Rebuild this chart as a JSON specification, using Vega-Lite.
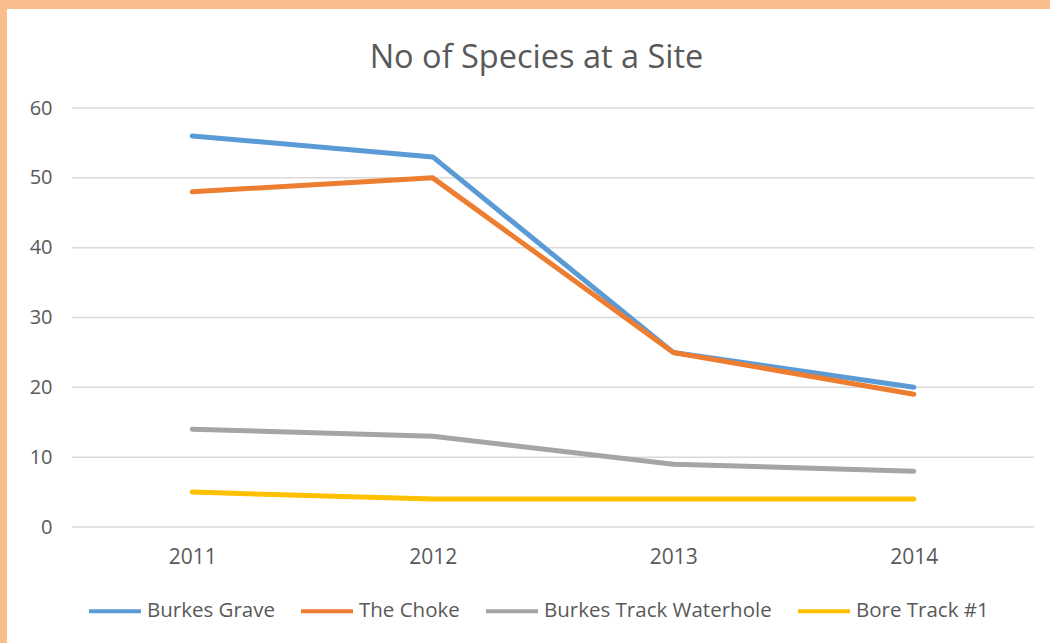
{
  "$schema": "https://vega.github.io/schema/vega-lite/v6.json",
  "autosize": {"type": "none"},
  "width": 1043,
  "height": 634,
  "padding": {"left": 7, "top": 9, "right": 0, "bottom": 0},
  "background": "#F8BF8C",
  "view": {"fill": "white", "stroke": null},
  "title": {
    "text": "No of Species at a Site",
    "frame": "group",
    "anchor": "middle",
    "offset": -65,
    "dx": 8,
    "font": "Open Sans",
    "fontSize": 32.5,
    "fontWeight": "normal",
    "color": "#595959"
  },
  "datasets": {
    "species": [
      {"Year": 2011, "Site": "Burkes Grave", "Species": 56},
      {"Year": 2012, "Site": "Burkes Grave", "Species": 53},
      {"Year": 2013, "Site": "Burkes Grave", "Species": 25},
      {"Year": 2014, "Site": "Burkes Grave", "Species": 20},
      {"Year": 2011, "Site": "The Choke", "Species": 48},
      {"Year": 2012, "Site": "The Choke", "Species": 50},
      {"Year": 2013, "Site": "The Choke", "Species": 25},
      {"Year": 2014, "Site": "The Choke", "Species": 19},
      {"Year": 2011, "Site": "Burkes Track Waterhole", "Species": 14},
      {"Year": 2012, "Site": "Burkes Track Waterhole", "Species": 13},
      {"Year": 2013, "Site": "Burkes Track Waterhole", "Species": 9},
      {"Year": 2014, "Site": "Burkes Track Waterhole", "Species": 8},
      {"Year": 2011, "Site": "Bore Track #1", "Species": 5},
      {"Year": 2012, "Site": "Bore Track #1", "Species": 4},
      {"Year": 2013, "Site": "Bore Track #1", "Species": 4},
      {"Year": 2014, "Site": "Bore Track #1", "Species": 4}
    ],
    "grid": [
      {"v": 0}, {"v": 10}, {"v": 20}, {"v": 30}, {"v": 40}, {"v": 50}, {"v": 60}
    ]
  },
  "layer": [
    {
      "data": {"name": "grid"},
      "mark": {"type": "rule", "color": "#D9D9D9", "strokeWidth": 1.5},
      "encoding": {
        "y": {"field": "v", "type": "quantitative"},
        "x": {"datum": 2010.5, "type": "quantitative"},
        "x2": {"datum": 2014.5}
      }
    },
    {
      "data": {"name": "species"},
      "mark": {"type": "line", "strokeWidth": 5, "strokeCap": "round", "strokeJoin": "round"},
      "encoding": {
        "x": {
          "field": "Year",
          "type": "quantitative",
          "scale": {"domain": [2010.2297, 2014.5665], "nice": false, "zero": false},
          "axis": {
            "title": null,
            "values": [2011, 2012, 2013, 2014],
            "format": "d",
            "domain": false,
            "ticks": false,
            "tickSize": 0,
            "grid": false,
            "offset": -97,
            "labelPadding": 0,
            "labelFont": "Open Sans",
            "labelFontSize": 21,
            "labelColor": "#595959"
          }
        },
        "y": {
          "field": "Species",
          "type": "quantitative",
          "scale": {"domain": [-16.61, 74.18], "nice": false, "zero": false},
          "axis": {
            "title": null,
            "values": [0, 10, 20, 30, 40, 50, 60],
            "domain": false,
            "ticks": false,
            "tickSize": 0,
            "grid": false,
            "offset": -45,
            "labelPadding": 0,
            "labelFont": "Open Sans",
            "labelFontSize": 20,
            "labelColor": "#595959"
          }
        },
        "color": {
          "field": "Site",
          "type": "nominal",
          "scale": {
            "domain": ["Burkes Grave", "The Choke", "Burkes Track Waterhole", "Bore Track #1"],
            "range": ["#5B9BD5", "#ED7D31", "#A5A5A5", "#FFC000"]
          },
          "legend": {
            "title": null,
            "orient": "none",
            "legendX": 80,
            "legendY": 574,
            "direction": "horizontal",
            "columns": 4,
            "padding": 0,
            "symbolType": "stroke",
            "symbolSize": 2704,
            "symbolStrokeWidth": 4,
            "labelOffset": 4,
            "columnPadding": 18,
            "labelLimit": 500,
            "labelFont": "Open Sans",
            "labelFontSize": 20.5,
            "labelColor": "#595959"
          }
        }
      }
    }
  ]
}
